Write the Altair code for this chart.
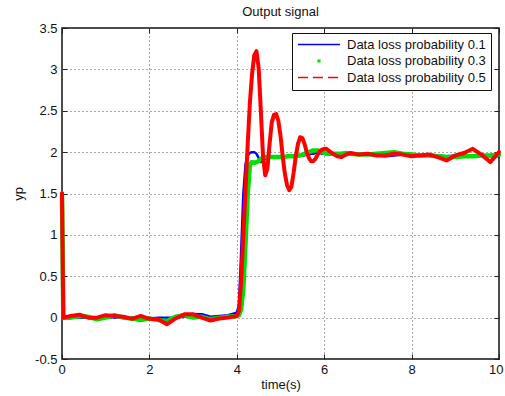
import altair as alt
import pandas as pd

FONT = "Liberation Sans"

time_s = [0, 0.03, 0.2, 0.4, 0.6, 0.8, 1.0, 1.2, 1.4, 1.6, 1.8, 2.0, 2.2, 2.4, 2.6, 2.8, 3.0, 3.2, 3.4, 3.6, 3.8, 4.0,
          4.05, 4.1, 4.15, 4.2, 4.25, 4.3, 4.35, 4.4, 4.45, 4.5, 4.55, 4.6, 4.65, 4.7, 4.75, 4.8, 4.85, 4.9, 4.95, 5.0,
          5.05, 5.1, 5.15, 5.2, 5.25, 5.3, 5.35, 5.4, 5.45, 5.5, 5.55, 5.6, 5.65, 5.7, 5.75, 5.8, 5.85, 5.9, 5.95, 6.0,
          6.05, 6.1, 6.15, 6.2,
          6.3, 6.4, 6.5, 6.6, 6.8, 7.0, 7.2, 7.4, 7.6, 7.8, 8.0, 8.2, 8.4, 8.6, 8.8, 9.0, 9.2, 9.4, 9.6, 9.8, 10.0]

yp_01 = [1.5, 0.0, 0.01, 0.0, 0.0, 0.0, 0.01, 0.0, 0.01, 0.0, 0.0, -0.01, 0.0, 0.0, 0.0, 0.01, 0.045, 0.04, 0.01, 0.02, 0.03, 0.06,
         0.15, 0.8, 1.5, 1.85, 1.96, 1.99, 2.0, 2.0, 1.98, 1.93, 1.88, 1.89, 1.92, 1.93, 1.94, 1.94, 1.94, 1.94, 1.95, 1.95,
         1.95, 1.95, 1.95, 1.95, 1.95, 1.95, 1.95, 1.96, 1.96, 1.96, 1.96, 1.97, 1.97, 1.98, 1.98, 1.99, 1.99, 1.99, 1.98, 1.98,
         1.98, 1.97, 1.97, 1.97,
         1.97, 1.97, 1.97, 1.97, 1.97, 1.97, 1.96, 1.95, 1.96, 1.97, 1.96, 1.96, 1.97, 1.96, 1.95, 1.96, 1.96, 1.96, 1.96, 1.95, 1.95]

yp_03 = [1.5, 0.0, 0.0, 0.02, 0.01, -0.02, 0.0, 0.03, 0.0, -0.01, -0.03, -0.01, -0.03, -0.04, 0.01, 0.03, 0.0, 0.01, -0.02, 0.0, 0.01, 0.02,
         0.03, 0.1, 0.35, 0.9, 1.5, 1.85, 1.88, 1.87, 1.88, 1.89, 1.92, 1.93, 1.94, 1.94, 1.94, 1.94, 1.94, 1.94, 1.94, 1.94,
         1.94, 1.94, 1.95, 1.95, 1.95, 1.95, 1.95, 1.96, 1.96, 1.97, 1.98, 1.99, 2.0, 2.01, 2.02, 2.02, 2.02, 2.01, 2.0, 1.99,
         1.98, 1.98, 1.98, 1.98,
         1.98, 1.98, 1.99, 1.98, 1.97, 1.97, 1.98, 1.99, 2.0, 1.98, 1.97, 1.96, 1.96, 1.95, 1.94, 1.94, 1.95, 1.95, 1.96, 1.96, 1.97]

yp_05 = [1.5, 0.0, 0.02, 0.035, 0.0, 0.0, 0.03, 0.02, 0.01, -0.015, 0.02, -0.015, -0.02, -0.08, -0.01, 0.04, 0.04, 0.0, -0.035, -0.01, 0.0, 0.02,
         0.08, 0.45, 1.0, 1.55, 2.1, 2.6, 2.95, 3.17, 3.22, 3.02, 2.5, 1.95, 1.72, 1.8, 2.1, 2.36, 2.45, 2.46, 2.38, 2.2,
         1.95, 1.74, 1.6, 1.54, 1.58, 1.75, 1.95, 2.1, 2.18, 2.17, 2.1, 2.0, 1.93, 1.89, 1.89, 1.92, 1.97, 2.01, 2.03, 2.04,
         2.04, 2.02, 2.0, 1.98,
         1.95, 1.94, 1.97, 1.99, 1.97, 1.98, 1.96, 1.96, 1.98, 1.97, 1.95, 1.96, 1.97, 1.94, 1.90, 1.96, 1.99, 2.04, 1.97, 1.88, 2.0]

labels = ["Data loss probability 0.1", "Data loss probability 0.3", "Data loss probability 0.5"]
colors = ["#0000ff", "#00e000", "#ff0000"]
widths = [2.5, 4.5, 4]
# legend glyphs: solid line, single dot, dashed line
glyphs = ["M-1,0H1",
          "M-0.04,-0.04H0.04V0.04H-0.04Z",
          "M-1,0H-0.52M-0.29,0H0.19M0.43,0H0.91"]

x_ticks = [0, 2, 4, 6, 8, 10]
y_ticks = [-0.5, 0, 0.5, 1, 1.5, 2, 2.5, 3, 3.5]

frames = []
for lab, vals in zip(labels, [yp_01, yp_03, yp_05]):
    frames.append(pd.DataFrame({"t": time_s, "yp": vals, "series": lab}))
df = pd.concat(frames, ignore_index=True)

W, H = 437, 331
xscale = alt.Scale(domain=[0, 10], nice=False, zero=False)
yscale = alt.Scale(domain=[-0.5, 3.5], nice=False, zero=False)

x_main = alt.Axis(orient="bottom", values=x_ticks, format="d", title="time(s)",
                  grid=True, gridDash=[1, 3], gridColor="#555", gridWidth=1,
                  domain=False, tickSize=5, tickColor="#222", offset=-5,
                  labelPadding=4, labelFlush=True, labelFlushOffset=4,
                  labelFont=FONT, labelFontSize=13, labelColor="#111",
                  titleFont=FONT, titleFontSize=13, titleFontWeight="normal",
                  titleColor="#111", titlePadding=2)
y_main = alt.Axis(orient="left", values=y_ticks, labelExpr="toString(datum.value)", title="yp",
                  grid=True, gridDash=[1, 3], gridColor="#555", gridWidth=1,
                  domain=False, tickSize=5, tickColor="#222", offset=-5,
                  labelPadding=5, labelFlush=False, labelFont=FONT, labelFontSize=13, labelColor="#111",
                  titleFont=FONT, titleFontSize=13, titleFontWeight="normal",
                  titleColor="#111", titlePadding=9)
x_top = alt.Axis(orient="top", values=x_ticks, labels=False, title=None, grid=False,
                 domain=False, tickSize=5, tickColor="#222", offset=-5)
y_right = alt.Axis(orient="right", values=y_ticks, labels=False, title=None, grid=False,
                   domain=False, tickSize=5, tickColor="#222", offset=-5)

layers = []
for i, (lab, col, w) in enumerate(zip(labels, colors, widths)):
    sub = df[df["series"] == lab]
    layers.append(
        alt.Chart(sub).mark_line(color=col, strokeWidth=w, strokeJoin="round", strokeCap="round").encode(
            x=alt.X("t:Q", scale=xscale, axis=x_main if i == 0 else None),
            y=alt.Y("yp:Q", scale=yscale, axis=y_main if i == 0 else None),
        )
    )

def make_legend():
    return alt.Legend(title=None, orient="none", legendX=230, legendY=5,
                      symbolSize=1764, symbolStrokeWidth=1.5, clipHeight=13,
                      rowPadding=2.5, padding=5, labelOffset=6,
                      labelFont=FONT, labelFontSize=13, labelColor="#111",
                      strokeColor="#111", fillColor="white", cornerRadius=0,
                      symbolOpacity=1)

legend_layer = alt.Chart(df).transform_filter("false").mark_point(filled=False, strokeWidth=1.5).encode(
    x=alt.X("t:Q", scale=xscale, axis=x_top),
    y=alt.Y("yp:Q", scale=yscale, axis=y_right),
    color=alt.Color("series:N", scale=alt.Scale(domain=labels, range=colors), legend=make_legend()),
    shape=alt.Shape("series:N", scale=alt.Scale(domain=labels, range=glyphs), legend=make_legend()),
)

chart = alt.layer(*layers, legend_layer).resolve_axis(
    x="independent", y="independent"
).properties(
    width=W, height=H,
    title=alt.Title("Output signal", font=FONT, fontSize=13, fontWeight="normal",
                    color="#111", frame="group", anchor="middle", offset=3),
    padding={"left": 62, "top": 28, "right": 6, "bottom": 37},
    autosize=alt.AutoSizeParams(type="none"),
).configure_view(stroke="#111", strokeWidth=1.5)

chart.save("out.html", embed_options={"renderer": "svg", "actions": False})
